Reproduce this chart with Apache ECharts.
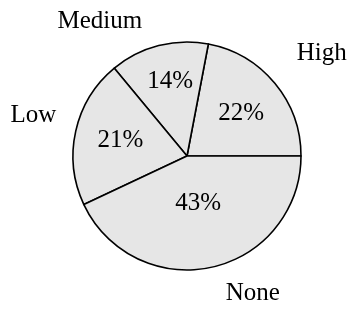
<!DOCTYPE html>
<html>
<head>
<meta charset="utf-8">
<style>
  html, body { margin: 0; padding: 0; background: #fff; }
  #chart { width: 352px; height: 310px; }
</style>
<script src="https://cdn.jsdelivr.net/npm/echarts@6/dist/echarts.min.js"></script>
</head>
<body>
<div id="chart"></div>
<script>
const categories = ['High', 'Medium', 'Low', 'None'];
const shares = [22, 14, 21, 43];

const chart = echarts.init(document.getElementById('chart'), null, { renderer: 'canvas' });
const font = '"Liberation Serif", "DejaVu Serif", serif';

// small nudges on top of where the pie puts its labels
const nameNudge = [[0, -16], [-6, -3], [7, -11], [4, 5]];
const pctNudge = [[8, -4], [-2, -16], [-8, -2], [-2, -11]];

const pieData = categories.map((name, i) => ({ name: name, value: shares[i] }));

const base = {
  type: 'pie',
  center: [187, 156],
  radius: [0, 114],
  startAngle: 0,
  clockwise: false,
  animation: false,
  silent: true,
  data: pieData
};

chart.setOption({
  backgroundColor: '#fff',
  series: [
    Object.assign({}, base, {
      itemStyle: { color: '#e6e6e6', borderColor: '#000', borderWidth: 1.6 },
      label: {
        position: 'inner',
        formatter: (p) => p.value + '%',
        fontFamily: font,
        fontSize: 25,
        color: '#000'
      },
      labelLine: { show: false },
      labelLayout: (p) => ({ dx: pctNudge[p.dataIndex][0], dy: pctNudge[p.dataIndex][1] })
    }),
    Object.assign({}, base, {
      itemStyle: { color: 'transparent', borderWidth: 0 },
      label: {
        position: 'outside',
        formatter: '{b}',
        fontFamily: font,
        fontSize: 25,
        color: '#000',
        overflow: 'none'
      },
      edgeDistance: 0,
      labelLine: { show: false, length: 22, length2: 0 },
      labelLayout: (p) => ({ dx: nameNudge[p.dataIndex][0], dy: nameNudge[p.dataIndex][1] })
    })
  ]
});
</script>
</body>
</html>
